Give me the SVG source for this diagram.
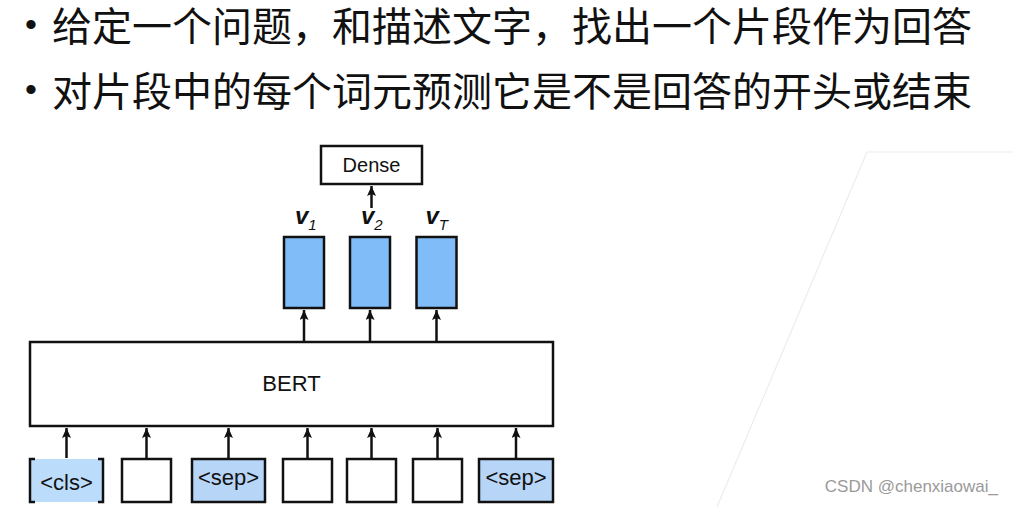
<svg xmlns="http://www.w3.org/2000/svg" width="1013" height="507" viewBox="0 0 1013 507">
<style>
.box{stroke:#111;stroke-width:2.5;fill:#fff}
.vbox{stroke:#111;stroke-width:2.5;fill:#80bcf7}
.sep{stroke:#111;stroke-width:2.5;fill:#b7d5f6}
.lbl{font-family:"Liberation Sans",Arial,sans-serif;fill:#111;text-anchor:middle}
.cjk{font-family:"Noto Sans CJK SC","Noto Sans",sans-serif;font-size:40px;fill:#111}
.bul{font-family:"Liberation Sans",Arial,sans-serif;font-size:34px;fill:#111}
.conn{stroke:#111;stroke-width:2.5;fill:none;marker-end:url(#ah)}
.v{font-family:"Liberation Sans",Arial,sans-serif;font-weight:bold;font-style:italic;font-size:24px;fill:#111}
.sub{font-family:"Liberation Sans",Arial,sans-serif;font-style:italic;font-size:15px;font-weight:normal}
</style>
<defs>
<marker id="ah" markerUnits="userSpaceOnUse" markerWidth="12" markerHeight="12" refX="10" refY="4.5" orient="auto">
<path d="M0,0 L10,4.5 L0,9 L2,4.5 z" fill="#111"/>
</marker>
</defs>
<rect width="1013" height="507" fill="#fff"/>
<path d="M1013,152 L867,152 L717,507" fill="none" stroke="#ececec" stroke-width="1.2"/>
<g id="bullets">
<text class="bul" x="25" y="36">•</text>
<text class="cjk" x="52" y="41">给定一个问题，和描述文字，找出一个片段作为回答</text>
<text class="bul" x="25" y="101">•</text>
<text class="cjk" x="52" y="106">对片段中的每个词元预测它是不是回答的开头或结束</text>
</g>
<g id="dense">
<rect class="box" x="321" y="146" width="101" height="38"/>
<text class="lbl" x="371.5" y="172" font-size="20">Dense</text>
</g>
<g id="v1">
<rect class="vbox" x="284" y="237" width="40" height="71"/>
<text class="v" x="295" y="224">v<tspan class="sub" dy="6">1</tspan></text>
</g>
<g id="v2">
<rect class="vbox" x="350" y="237" width="40" height="71"/>
<text class="v" x="361" y="224">v<tspan class="sub" dy="6">2</tspan></text>
</g>
<g id="vT">
<rect class="vbox" x="416.5" y="237" width="40" height="71"/>
<text class="v" x="425.5" y="224">v<tspan class="sub" dy="6">T</tspan></text>
</g>
<g id="bert">
<rect class="box" x="30" y="342" width="523" height="84"/>
<text class="lbl" x="291.5" y="391" font-size="22">BERT</text>
</g>
<g id="cls">
<rect x="30" y="459" width="73" height="43" fill="#bcdcfc"/>
<path d="M35,459 H30 V502 H35 M98,459 H103 V502 H98" fill="none" stroke="#111" stroke-width="2.5"/>
<text class="lbl" x="66.5" y="490" font-size="22">&lt;cls&gt;</text>
</g>
<g id="tok2"><rect class="box" x="122" y="459" width="49" height="43"/></g>
<g id="sep1">
<rect class="sep" x="192" y="459" width="73" height="43"/>
<text class="lbl" x="228.5" y="485" font-size="22">&lt;sep&gt;</text>
</g>
<g id="tok4"><rect class="box" x="283" y="459" width="49" height="43"/></g>
<g id="tok5"><rect class="box" x="347" y="459" width="49" height="43"/></g>
<g id="tok6"><rect class="box" x="413" y="459" width="49" height="43"/></g>
<g id="sep2">
<rect class="sep" x="479" y="459" width="74" height="43"/>
<text class="lbl" x="516" y="485" font-size="22">&lt;sep&gt;</text>
</g>
<g id="connectors">
<line class="conn" x1="66.5" y1="458" x2="66.5" y2="428"/>
<line class="conn" x1="146.5" y1="458" x2="146.5" y2="428"/>
<line class="conn" x1="228.5" y1="458" x2="228.5" y2="428"/>
<line class="conn" x1="307.5" y1="458" x2="307.5" y2="428"/>
<line class="conn" x1="371.5" y1="458" x2="371.5" y2="428"/>
<line class="conn" x1="437.5" y1="458" x2="437.5" y2="428"/>
<line class="conn" x1="516" y1="458" x2="516" y2="428"/>
<line class="conn" x1="304" y1="341" x2="304" y2="310"/>
<line class="conn" x1="370" y1="341" x2="370" y2="310"/>
<line class="conn" x1="436.5" y1="341" x2="436.5" y2="310"/>
<line class="conn" x1="371.5" y1="208" x2="371.5" y2="186"/>
</g>
<text x="998" y="492" text-anchor="end" font-family="Liberation Sans,Arial,sans-serif" font-size="17" fill="#9a9a9a">CSDN @chenxiaowai_</text>
</svg>
